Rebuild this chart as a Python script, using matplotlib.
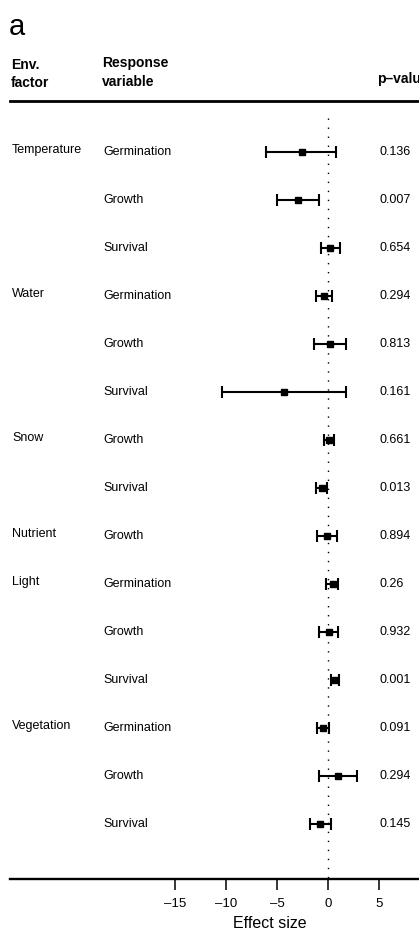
import matplotlib
matplotlib.use("Agg")
import matplotlib.pyplot as plt

# ---------------- data ----------------
factors = ["Temperature", "", "", "Water", "", "", "Snow", "", "Nutrient",
           "Light", "", "", "Vegetation", "", ""]
responses = ["Germination", "Growth", "Survival",
             "Germination", "Growth", "Survival",
             "Growth", "Survival",
             "Growth",
             "Germination", "Growth", "Survival",
             "Germination", "Growth", "Survival"]
effect = [-2.6, -3.0, 0.17, -0.42, 0.17, -4.34, 0.07, -0.65, -0.13,
          0.43, 0.04, 0.66, -0.55, 0.92, -0.82]
lower = [-6.14, -5.0, -0.75, -1.24, -1.37, -10.45, -0.42, -1.2, -1.1,
         -0.22, -0.91, 0.23, -1.08, -0.91, -1.8]
upper = [0.75, -0.88, 1.15, 0.36, 1.7, 1.7, 0.59, -0.16, 0.88,
         0.95, 0.92, 1.05, 0.07, 2.84, 0.26]
pvals = ["0.136", "0.007", "0.654", "0.294", "0.813", "0.161", "0.661", "0.013",
         "0.894", "0.26", "0.932", "0.001", "0.091", "0.294", "0.145"]
xticks = [-15, -10, -5, 0, 5]

# ---------------- layout ----------------
W, H = 419, 943
NARROW = ["Liberation Sans Narrow", "Liberation Sans", "DejaVu Sans"]
REG = ["Liberation Sans", "DejaVu Sans"]

fig = plt.figure(figsize=(W / 100, H / 100), dpi=100)
top_px, bot_px = 101, 879
ax = fig.add_axes([10 / W, (H - bot_px) / H, 1 - 10 / W, (bot_px - top_px) / H])

row0, step = 152, 48
rows = list(range(len(responses)))
ax.set_ylim((bot_px - row0) / step, (top_px - row0) / step)
ax.set_xlim((10 - 328.3) / 10.2, (419 - 328.3) / 10.2)

# zero reference line
ax.plot([0, 0], [(118 - row0) / step, (bot_px - row0) / step], color="black",
        lw=1.0, linestyle=(0, (1, 5.5)), zorder=1)

# estimates with intervals
for i in rows:
    ax.errorbar(effect[i], i,
                xerr=[[effect[i] - lower[i]], [upper[i] - effect[i]]],
                fmt="s", color="black", ms=5, lw=1.5, capsize=4, capthick=1.5,
                zorder=3)

for side in ["left", "right"]:
    ax.spines[side].set_visible(False)
ax.spines["top"].set_linewidth(2.0)
ax.spines["bottom"].set_linewidth(1.7)
ax.set_yticks([])
ax.set_xticks(xticks)
ax.set_xticklabels(["\u2013" + str(abs(t)) if t < 0 else str(t) for t in xticks],
                   family=NARROW, fontsize=9.5)
ax.tick_params(axis="x", direction="out", length=8, width=1.1, pad=6)
ax.set_xlabel("Effect size", family=REG, fontsize=11.5)
ax.xaxis.set_label_coords((270 - 10) / 409, -(923 - bot_px) / (bot_px - top_px),
                          transform=ax.transAxes)
ax.xaxis.label.set_verticalalignment("center")


def px(x, y):
    return x / W, 1 - y / H


# text columns
for i in rows:
    y = row0 + step * i
    if factors[i]:
        fig.text(*px(12, y - 2), factors[i], family=NARROW, fontsize=9,
                 va="center", ha="left")
    fig.text(*px(103, y), responses[i], family=NARROW, fontsize=9,
             va="center", ha="left")
    fig.text(*px(379, y), pvals[i], family=NARROW, fontsize=9,
             va="center", ha="left")

# headers
fig.text(*px(11, 65), "Env.", family=NARROW, fontsize=10, weight="bold", va="center")
fig.text(*px(11, 83), "factor", family=NARROW, fontsize=10, weight="bold", va="center")
fig.text(*px(102, 63), "Response", family=NARROW, fontsize=10, weight="bold", va="center")
fig.text(*px(102, 82), "variable", family=NARROW, fontsize=10, weight="bold", va="center")
fig.text(*px(377, 79), "p\u2013value", family=NARROW, fontsize=10, weight="bold", va="center")
fig.text(*px(9, 27), "a", family=REG, fontsize=21, va="center")

fig.savefig("out.png", dpi=100)
